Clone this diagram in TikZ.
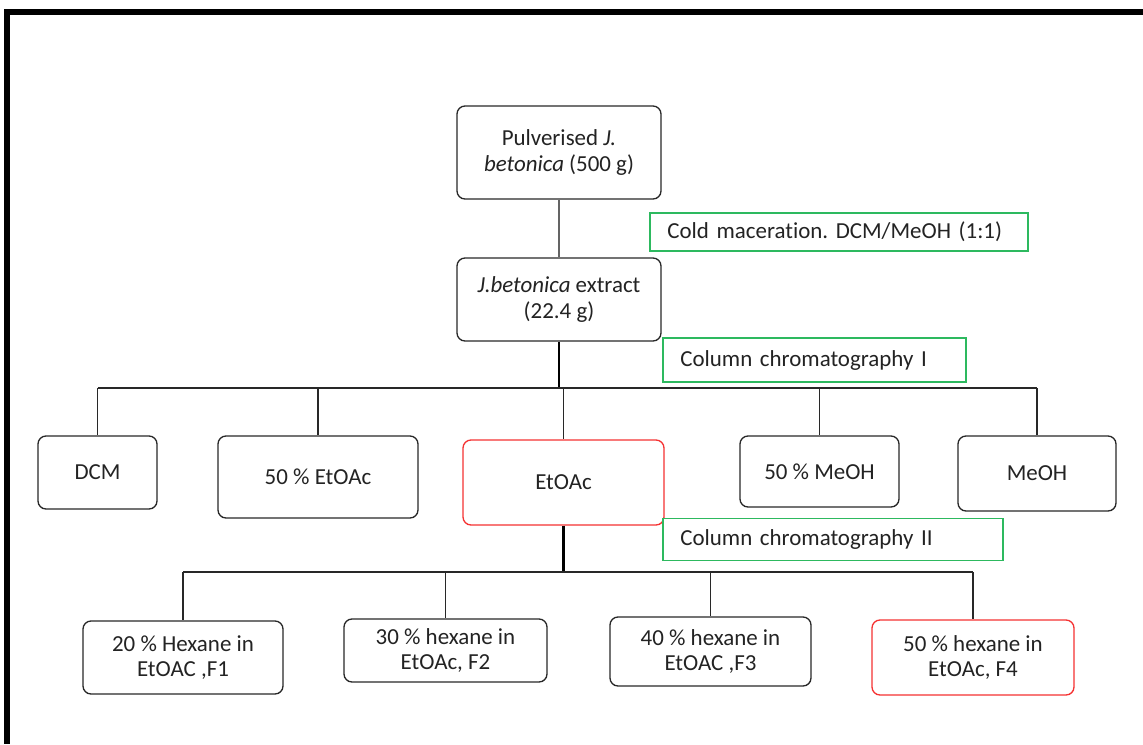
\documentclass[tikz,border=0pt]{standalone}
\usepackage{fontspec}
\setmainfont{Carlito}[Ligatures=NoCommon]
\frenchspacing
\definecolor{boxgray}{RGB}{40,40,40}
\definecolor{boxred}{RGB}{245,50,50}
\definecolor{boxgreen}{RGB}{45,185,95}
\definecolor{linegray}{RGB}{100,100,100}
\definecolor{txt}{RGB}{35,35,35}
\begin{document}
\begin{tikzpicture}[x=0.75pt,y=-0.75pt,
  every node/.style={font=\fontsize{17.2}{19}\selectfont, text=txt},
  blk/.style={draw=boxgray, line width=1pt, rounded corners=6pt, align=center, inner sep=0pt, fill=white},
  redbox/.style={blk, draw=boxred},
  grn/.style={draw=boxgreen, line width=1pt, align=left, inner ysep=0pt, inner xsep=13pt, fill=white},
  conn/.style={draw=boxgray, line width=1.1pt},
  thick conn/.style={draw=black, line width=2pt},
]
\useasboundingbox (0,0) rectangle (1143,744);
\fill[black] (4,9) rectangle (1143,15);
\fill[black] (4,9) rectangle (10,744);

% main nodes
\node[blk, minimum width=153pt, minimum height=69.75pt] (A) at (559,152.5) {Pulverised \textit{J.}\\\textit{betonica} (500 g)};
\node[blk, minimum width=153pt, minimum height=62.25pt] (B) at (559,299.5) {\textit{J.betonica} extract\\(22.4 g)};

\node[blk, minimum width=89.25pt, minimum height=54.75pt] (DCM) at (97.5,472.5) {DCM};
\node[blk, minimum width=150pt, minimum height=61.5pt] (E50) at (318,477) {50 \% EtOAc};
\node[redbox, minimum width=150.75pt, minimum height=63.75pt] (EA) at (563.5,482.5) {EtOAc};
\node[blk, minimum width=119.25pt, minimum height=53.25pt] (M50) at (819.5,471.5) {50 \% MeOH};
\node[blk, minimum width=118.5pt, minimum height=56.25pt] (MeOH) at (1037,473.5) {MeOH};

\node[blk, minimum width=150pt, minimum height=54.75pt] (F1) at (183,657.5) {20 \% Hexane in\\EtOAC ,F1};
\node[blk, minimum width=152.25pt, minimum height=47.25pt] (F2) at (445.5,650.5) {30 \% hexane in\\EtOAc, F2};
\node[blk, minimum width=150.75pt, minimum height=51.75pt] (F3) at (710.5,651.5) {40 \% hexane in\\EtOAC ,F3};
\node[redbox, minimum width=151.5pt, minimum height=56.25pt] (F4) at (973,657.5) {50 \% hexane in\\EtOAc, F4};

% green labels
\node[grn, text width=257.5pt, minimum height=28.5pt] (G1) at (839,232) {Cold maceration. DCM/MeOH (1:1)};
\node[grn, text width=201.25pt, minimum height=33pt] (G2) at (814.5,360) {Column chromatography I};
\node[grn, text width=229pt, minimum height=31.5pt] (G3) at (833,539.5) {Column chromatography II};

% connectors
\coordinate (bar1) at (559,388);
\coordinate (bar2) at (563,572);
\draw[draw=linegray, line width=1.5pt] (A.south) -- (B.north);
\draw[thick conn] (B.south) -- (bar1);
\draw[conn] (bar1 -| DCM.north) -- (bar1 -| MeOH.north);
\foreach \n in {DCM,E50,EA,M50,MeOH} \draw[conn] (bar1 -| \n.north) -- (\n.north);
\draw[thick conn] (EA.south) -- (EA.south |- bar2);
\draw[conn] (bar2 -| F1.north) -- (bar2 -| F4.north);
\foreach \n in {F1,F2,F3,F4} \draw[conn] (bar2 -| \n.north) -- (\n.north);
\end{tikzpicture}
\end{document}
